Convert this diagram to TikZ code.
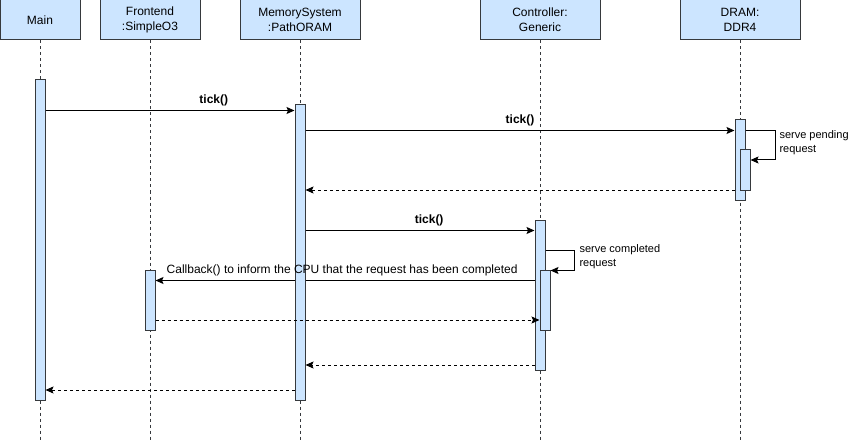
\documentclass[tikz,border=0pt]{standalone}
\usepackage{fontspec}
\setmainfont{Liberation Sans}
\usepackage{xcolor}
\usetikzlibrary{arrows.meta}
\definecolor{boxfill}{HTML}{CCE5FF}
\definecolor{boxline}{HTML}{36393D}
\definecolor{ink}{HTML}{000000}
\pgfdeclarelayer{back}
\pgfsetlayers{back,main}
\tikzset{
  head/.style={draw=boxline, fill=boxfill, line width=1pt, minimum height=40pt, inner sep=0pt, align=center, font=\fontsize{12}{15}\selectfont},
  life/.style={draw=boxline, line width=1pt, dash pattern=on 3pt off 3pt},
  bar/.style={draw=boxline, fill=boxfill, line width=1pt, minimum width=10pt, inner sep=0pt},
  msg/.style={draw=ink, line width=1pt, -{Stealth[length=8pt,width=7pt,inset=1.5pt]}},
  ret/.style={msg, dash pattern=on 3pt off 3pt},
  lab/.style={text=ink, font=\fontsize{12}{14}\selectfont},
  labb/.style={text=ink, font=\fontsize{12}{14}\selectfont\bfseries},
  labs/.style={text=ink, font=\fontsize{11}{14}\selectfont, align=left, anchor=west},
}
\begin{document}
\begin{tikzpicture}[x=1pt,y=-1pt]
  \useasboundingbox (0,0) rectangle (849,441);

  % heads
  \node[head,minimum width=80pt] (main) at (40,20) {Main};
  \node[head,minimum width=100pt] (front) at (150,20) {Frontend\\:SimpleO3};
  \node[head,minimum width=120pt] (mem) at (300,20) {MemorySystem\\:PathORAM};
  \node[head,minimum width=120pt] (ctrl) at (540,20) {Controller:\\Generic};
  \node[head,minimum width=120pt] (dram) at (740,20) {DRAM:\\DDR4};

  \begin{pgfonlayer}{back}
    \foreach \n in {main,front,mem,ctrl,dram}
      \draw[life] (\n.south) -- (\n.south |- 0,441);
  \end{pgfonlayer}

  % activations
  \node[bar,minimum height=320pt] (mainbar) at (40,240) {};
  \node[bar,minimum height=60pt] (frontbar) at (150,300) {};
  \node[bar,minimum height=295pt] (membar) at (300,252.5) {};
  \node[bar,minimum height=150pt] (ctrlbar) at (540,295) {};
  \node[bar,minimum height=60pt] (ctrlsub) at (545,300) {};
  \node[bar,minimum height=80pt] (drambar) at (740,160) {};
  \node[bar,minimum height=40pt] (dramsub) at (745,170) {};

  \draw[msg] (mainbar.east |- 0,110.5) -- node[labb,pos=0.676,yshift=10pt] {tick()} (membar.west |- 0,110.5);
  \draw[msg] (membar.east |- 0,130.5) -- node[labb,yshift=10pt] {tick()} (drambar.west |- 0,130.5);
  \draw[msg] (drambar.east |- 0,130.5) -- ++(30,0) |- (dramsub.east |- 0,160);
  \node[labs] (pend) at (776,143) {serve pending\\request};
  \draw[ret] (drambar.west |- 0,190) -- (membar.east |- 0,190);

  \draw[msg] (membar.east |- 0,230.5) -- node[labb,pos=0.54,yshift=10pt] {tick()} (ctrlbar.west |- 0,230.5);
  \draw[msg] (ctrlbar.east |- 0,250.5) -- ++(29,0) |- (ctrlsub.east |- 0,270.5);
  \node[labs] (done) at (576,257) {serve completed\\request};
  \begin{pgfonlayer}{back}
    \draw[msg] (ctrlsub.west |- 0,280.5) -- coordinate[pos=0.514] (cbmid) (frontbar.east |- 0,280.5);
  \end{pgfonlayer}
  \node[lab,yshift=10pt] (cb) at (cbmid) {Callback() to inform the CPU that the request has been completed};
  \draw[ret] (frontbar.east |- 0,320) -- (ctrlsub.west |- 0,320);
  \draw[ret] (ctrlbar.west |- 0,365) -- (membar.east |- 0,365);
  \draw[ret] (membar.west |- 0,390) -- (mainbar.east |- 0,390);
\end{tikzpicture}
\end{document}
